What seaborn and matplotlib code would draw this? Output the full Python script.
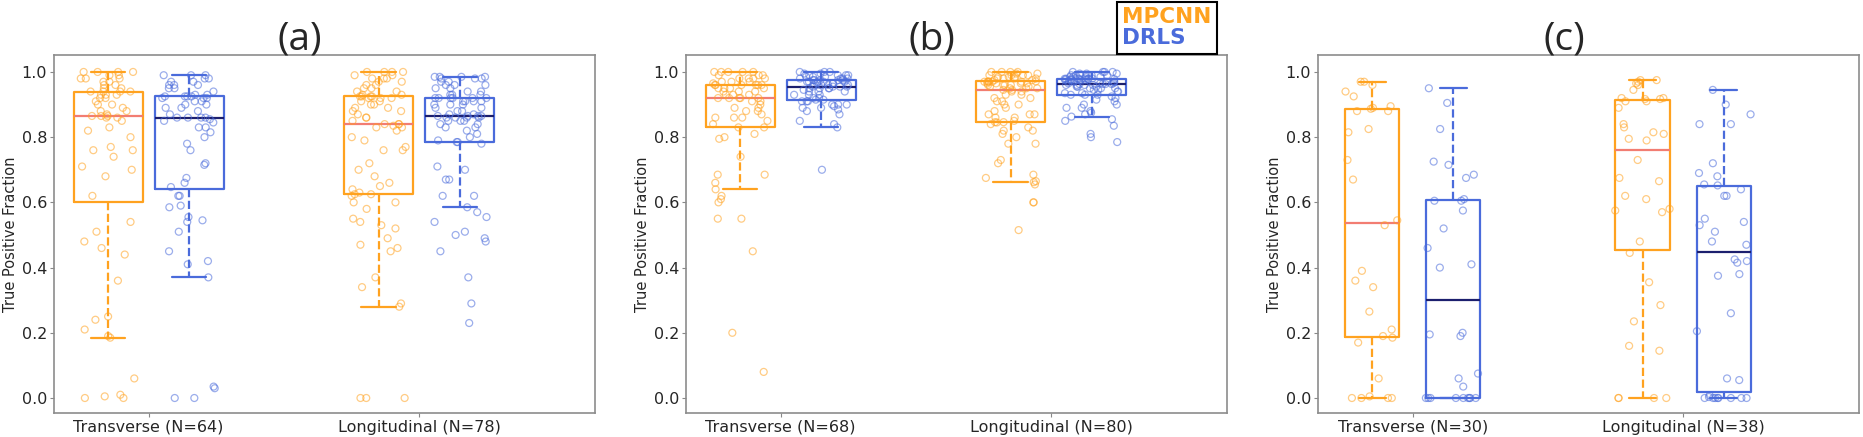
import numpy as np
import pandas as pd
import matplotlib
matplotlib.use("Agg")
import matplotlib.pyplot as plt
from matplotlib.lines import Line2D
import seaborn as sns

methods = ["MPCNN", "DRLS"]
colors = {"MPCNN": "#FFA21F", "DRLS": "#4A6BDB"}
median_colors = {"MPCNN": "#F27D72", "DRLS": "#1C1F6E"}

titles = ["(a)", "(b)", "(c)"]
views = [
    ["Transverse (N=64)", "Longitudinal (N=78)"],
    ["Transverse (N=68)", "Longitudinal (N=80)"],
    ["Transverse (N=30)", "Longitudinal (N=38)"],
]

# (a) true positive fraction per image
a_trans_mpcnn = [0.0, 0.0, 0.005, 0.01, 0.06, 0.185, 0.19, 0.21, 0.24, 0.25, 0.36, 0.44, 0.46, 0.48, 0.51, 0.54,
                 0.62, 0.68, 0.70, 0.71, 0.74, 0.76, 0.76, 0.77, 0.80, 0.82, 0.83, 0.85, 0.86, 0.86, 0.865, 0.865,
                 0.865, 0.87, 0.88, 0.88, 0.89, 0.90, 0.90, 0.91, 0.92, 0.92, 0.93, 0.93, 0.93, 0.94, 0.94, 0.94,
                 0.94, 0.95, 0.95, 0.96, 0.96, 0.97, 0.97, 0.98, 0.98, 0.98, 0.99, 0.99, 1.0, 1.0, 1.0, 1.0]
a_trans_drls = [0.0, 0.0, 0.03, 0.035, 0.37, 0.41, 0.42, 0.45, 0.51, 0.54, 0.545, 0.555, 0.585, 0.59, 0.62, 0.62,
                0.647, 0.66, 0.675, 0.715, 0.72, 0.76, 0.78, 0.80, 0.815, 0.83, 0.83, 0.845, 0.85, 0.855, 0.86, 0.86,
                0.86, 0.86, 0.87, 0.88, 0.89, 0.89, 0.90, 0.90, 0.91, 0.91, 0.92, 0.92, 0.92, 0.925, 0.925, 0.925,
                0.925, 0.93, 0.93, 0.94, 0.95, 0.95, 0.96, 0.96, 0.96, 0.97, 0.97, 0.98, 0.98, 0.99, 0.99, 0.99]
a_long_mpcnn = [0.0, 0.0, 0.0, 0.28, 0.29, 0.34, 0.37, 0.45, 0.46, 0.47, 0.49, 0.52, 0.53, 0.54, 0.55, 0.58, 0.60, 0.60, 0.62,
                0.625, 0.625,
                0.63, 0.64, 0.65, 0.66, 0.68, 0.70, 0.72, 0.76, 0.76, 0.77, 0.79, 0.80, 0.82, 0.83, 0.83, 0.835, 0.84,
                0.84, 0.84,
                0.85, 0.86, 0.86, 0.87, 0.88, 0.88, 0.89, 0.89, 0.90, 0.90, 0.91, 0.91, 0.92, 0.92, 0.92, 0.925, 0.925,
                0.925, 0.925,
                0.93, 0.93, 0.94, 0.94, 0.95, 0.95, 0.96, 0.96, 0.97, 0.97, 0.98, 0.98, 0.98, 0.99, 0.99, 1.0, 1.0, 1.0, 1.0]
a_long_drls = [0.23, 0.29, 0.37, 0.45, 0.48, 0.49, 0.50, 0.51, 0.54, 0.555, 0.57, 0.585, 0.62, 0.62, 0.67, 0.67, 0.70, 0.71, 0.78,
               0.785, 0.785,
               0.79, 0.80, 0.81, 0.82, 0.83, 0.83, 0.84, 0.84, 0.85, 0.85, 0.85, 0.86, 0.86, 0.86, 0.86, 0.865, 0.865,
               0.865, 0.865,
               0.87, 0.87, 0.88, 0.88, 0.89, 0.89, 0.90, 0.90, 0.90, 0.91, 0.91, 0.91, 0.91, 0.92, 0.92, 0.92, 0.92,
               0.92, 0.92,
               0.93, 0.93, 0.93, 0.94, 0.94, 0.95, 0.95, 0.96, 0.96, 0.96, 0.97, 0.97, 0.98, 0.98, 0.98, 0.985, 0.985, 0.985, 0.985]

# (b)
b_trans_mpcnn = [0.08, 0.20, 0.45, 0.55, 0.55, 0.60, 0.61, 0.62, 0.64, 0.66, 0.685, 0.685, 0.74, 0.795, 0.80, 0.81,
                 0.83, 0.83,
                 0.84, 0.85, 0.86, 0.86, 0.86, 0.87, 0.88, 0.88, 0.89, 0.89, 0.90, 0.91, 0.91, 0.92, 0.92,
                 0.92, 0.92,
                 0.92, 0.93, 0.93, 0.93, 0.94, 0.94, 0.94, 0.95, 0.95, 0.95, 0.95, 0.96, 0.96, 0.96, 0.96,
                 0.96, 0.96,
                 0.965, 0.97, 0.97, 0.97, 0.98, 0.98, 0.98, 0.98, 0.99, 0.99, 0.99, 1.0, 1.0, 1.0, 1.0, 1.0]
b_trans_drls = [0.70, 0.83, 0.84, 0.85, 0.87, 0.88, 0.885, 0.89, 0.89, 0.895, 0.90, 0.90, 0.90, 0.91, 0.91, 0.91,
                0.915, 0.915,
                0.92, 0.92, 0.93, 0.93, 0.93, 0.94, 0.94, 0.94, 0.945, 0.95, 0.95, 0.95, 0.95, 0.955, 0.955,
                0.955, 0.955,
                0.96, 0.96, 0.96, 0.96, 0.965, 0.965, 0.965, 0.97, 0.97, 0.97, 0.97, 0.97, 0.975, 0.975, 0.975,
                0.975, 0.975,
                0.98, 0.98, 0.98, 0.98, 0.985, 0.985, 0.985, 0.99, 0.99, 0.99, 0.99, 0.995, 0.995, 1.0, 1.0, 1.0]
b_long_mpcnn = [0.515, 0.60, 0.60, 0.655, 0.662, 0.665, 0.675, 0.685, 0.72, 0.73, 0.78, 0.78, 0.80, 0.81, 0.82, 0.82, 0.83, 0.84, 0.845,
                0.846, 0.846,
                0.85, 0.86, 0.86, 0.87, 0.87, 0.87, 0.88, 0.89, 0.90, 0.90, 0.91, 0.91, 0.92, 0.92, 0.93, 0.93, 0.94, 0.94,
                0.945, 0.945,
                0.95, 0.95, 0.95, 0.955, 0.955, 0.96, 0.96, 0.96, 0.96, 0.965, 0.965, 0.965, 0.965, 0.97, 0.97, 0.97, 0.97, 0.97,
                0.971, 0.971,
                0.975, 0.975, 0.98, 0.98, 0.98, 0.98, 0.985, 0.985, 0.985, 0.99, 0.99, 0.99, 0.99, 0.995, 0.995, 1.0, 1.0, 1.0, 1.0]
b_long_drls = [0.785, 0.80, 0.81, 0.835, 0.85, 0.855, 0.863, 0.87, 0.875, 0.88, 0.89, 0.89, 0.90, 0.90, 0.91, 0.915, 0.92, 0.925, 0.93,
               0.93, 0.93,
               0.935, 0.935, 0.94, 0.94, 0.945, 0.945, 0.95, 0.95, 0.95, 0.955, 0.955, 0.955, 0.96, 0.96, 0.96, 0.96, 0.963, 0.963,
               0.963, 0.963,
               0.965, 0.965, 0.965, 0.97, 0.97, 0.97, 0.97, 0.97, 0.975, 0.975, 0.975, 0.975, 0.975, 0.978, 0.978, 0.978, 0.979, 0.979,
               0.979, 0.979,
               0.98, 0.98, 0.98, 0.985, 0.985, 0.985, 0.985, 0.99, 0.99, 0.99, 0.99, 0.99, 0.995, 0.995, 0.995, 1.0, 1.0, 1.0, 1.0]

# (c)
c_trans_mpcnn = [0.0, 0.0, 0.0, 0.0, 0.005, 0.06, 0.17, 0.185, 0.19, 0.21, 0.265, 0.34, 0.36, 0.39, 0.53,
                 0.545, 0.67, 0.73, 0.815, 0.825, 0.88, 0.88, 0.887, 0.89, 0.895, 0.925, 0.94, 0.96, 0.97, 0.97]
c_trans_drls = [0.0, 0.0, 0.0, 0.0, 0.0, 0.0, 0.0, 0.0, 0.0, 0.035, 0.06, 0.075, 0.19, 0.195, 0.20,
                0.40, 0.41, 0.46, 0.52, 0.575, 0.605, 0.605, 0.61, 0.675, 0.685, 0.715, 0.725, 0.825, 0.905, 0.95]
c_long_mpcnn = [0.0, 0.0, 0.0, 0.0, 0.145, 0.16, 0.235, 0.285, 0.355, 0.445, 0.48, 0.57, 0.575, 0.58, 0.61, 0.62, 0.665, 0.675, 0.73,
                0.79, 0.795, 0.81, 0.815, 0.83, 0.84, 0.89, 0.91, 0.91, 0.917, 0.917, 0.92, 0.92, 0.945, 0.96, 0.965, 0.97, 0.975, 0.975]
c_long_drls = [0.0, 0.0, 0.0, 0.0, 0.0, 0.0, 0.0, 0.0, 0.003, 0.008, 0.055, 0.06, 0.205, 0.26, 0.375, 0.38, 0.415, 0.42, 0.425,
               0.47, 0.48, 0.51, 0.53, 0.54, 0.55, 0.62, 0.62, 0.64, 0.652, 0.655, 0.68, 0.69, 0.72, 0.84, 0.84, 0.87, 0.90, 0.945]

panels = [
    [(a_trans_mpcnn, a_trans_drls), (a_long_mpcnn, a_long_drls)],
    [(b_trans_mpcnn, b_trans_drls), (b_long_mpcnn, b_long_drls)],
    [(c_trans_mpcnn, c_trans_drls), (c_long_mpcnn, c_long_drls)],
]
gaps = [0.15, 0.15, 0.33]

np.random.seed(7)
sns.set_style("white")

W, H = 1863, 437
fig = plt.figure(figsize=(W / 100, H / 100), dpi=100)
lefts = [54, 686, 1318]

for i in range(3):
    ax = fig.add_axes([lefts[i] / W, 24 / H, 541 / W, 358 / H])

    rows = []
    for view, groups in zip(views[i], panels[i]):
        for method, vals in zip(methods, groups):
            for v in vals:
                rows.append({"View": view, "Method": method, "TPF": v})
    df = pd.DataFrame(rows)

    for method in methods:
        sns.boxplot(data=df[df["Method"] == method], x="View", y="TPF", hue="Method",
                    order=views[i], hue_order=methods, palette=colors, saturation=1,
                    fill=False, dodge=True, width=0.6, gap=gaps[i], showfliers=False,
                    linewidth=1.6,
                    whiskerprops={"linestyle": "--", "linewidth": 1.6},
                    medianprops={"color": median_colors[method], "linewidth": 1.6},
                    legend=False, ax=ax)

    n_before = len(ax.collections)
    sns.stripplot(data=df, x="View", y="TPF", hue="Method", order=views[i],
                  hue_order=methods, palette=colors, dodge=True, jitter=0.27,
                  size=5, alpha=0.55, legend=False, ax=ax)
    # pull the strips in to sit on the narrower boxes and make markers hollow
    for coll in ax.collections[n_before:]:
        off = coll.get_offsets()
        centre = np.round(off[:, 0])
        off[:, 0] = centre + (off[:, 0] - centre) * 0.75
        coll.set_offsets(off)
        fc = coll.get_facecolor()
        coll.set_edgecolor(fc)
        coll.set_facecolor("none")
        coll.set_linewidth(0.9)

    ax.set_xlim(-0.35, 1.65)
    ax.set_ylim(-0.046, 1.052)
    ax.set_yticks([0.0, 0.2, 0.4, 0.6, 0.8, 1.0])
    ax.set_yticklabels([f"{t:.1f}" for t in [0.0, 0.2, 0.4, 0.6, 0.8, 1.0]])
    ax.set_xlabel("")
    ax.set_ylabel("True Positive Fraction", fontsize=10.5, labelpad=2.5)
    ax.tick_params(axis="both", labelsize=11.5, length=3, color="#888888",
                   left=True, bottom=True, pad=2)
    for s in ax.spines.values():
        s.set_color("#8c8c8c")
        s.set_linewidth(1.2)
    ax.set_title(titles[i], fontsize=28, family="Open Sans", x=0.455, pad=4)

    if i == 1:
        handles = [Line2D([], [], color=colors[m], linestyle="none") for m in methods]
        leg = ax.legend(handles, methods, loc="upper right", bbox_to_anchor=(0.981, 1.148),
                        handlelength=0, handletextpad=0, labelcolor=[colors[m] for m in methods],
                        prop={"weight": "bold", "size": 15.5}, frameon=True, fancybox=False,
                        edgecolor="black", framealpha=1, borderpad=0.25, labelspacing=0.05,
                        borderaxespad=0)
        leg.get_frame().set_linewidth(1.5)

fig.savefig("out.png", dpi=100)
